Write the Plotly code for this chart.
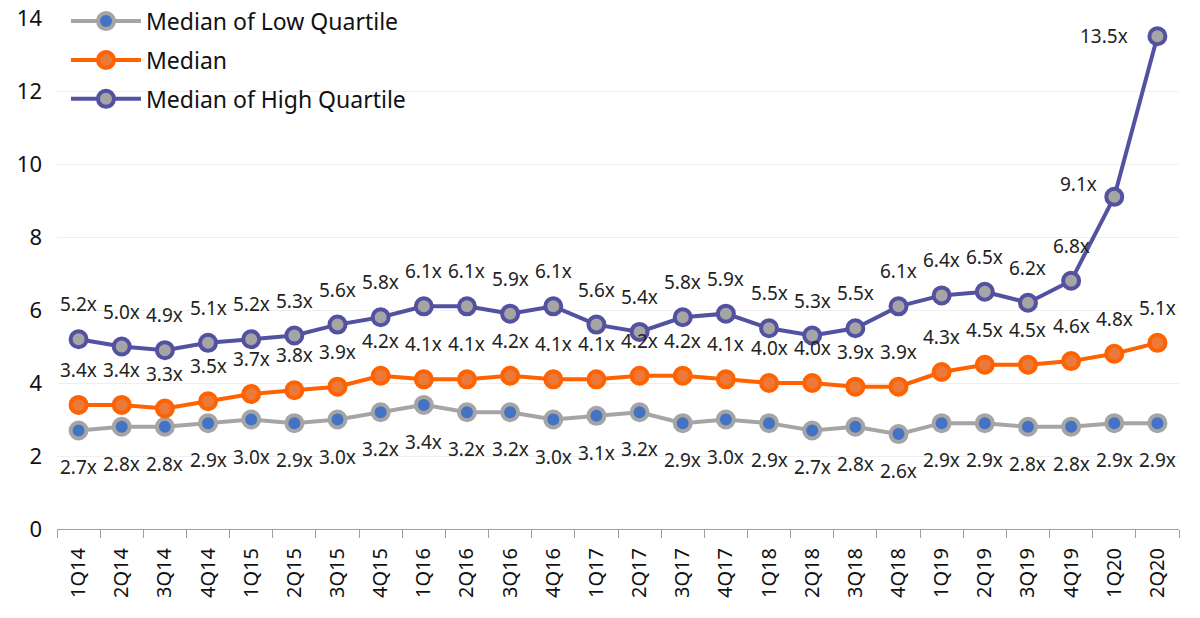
import plotly.graph_objects as go

quarters = [
    "1Q14", "2Q14", "3Q14", "4Q14", "1Q15", "2Q15", "3Q15", "4Q15",
    "1Q16", "2Q16", "3Q16", "4Q16", "1Q17", "2Q17", "3Q17", "4Q17",
    "1Q18", "2Q18", "3Q18", "4Q18", "1Q19", "2Q19", "3Q19", "4Q19",
    "1Q20", "2Q20",
]
low_quartile = [2.7, 2.8, 2.8, 2.9, 3.0, 2.9, 3.0, 3.2, 3.4, 3.2, 3.2, 3.0, 3.1,
                3.2, 2.9, 3.0, 2.9, 2.7, 2.8, 2.6, 2.9, 2.9, 2.8, 2.8, 2.9, 2.9]
median = [3.4, 3.4, 3.3, 3.5, 3.7, 3.8, 3.9, 4.2, 4.1, 4.1, 4.2, 4.1, 4.1,
          4.2, 4.2, 4.1, 4.0, 4.0, 3.9, 3.9, 4.3, 4.5, 4.5, 4.6, 4.8, 5.1]
high_quartile = [5.2, 5.0, 4.9, 5.1, 5.2, 5.3, 5.6, 5.8, 6.1, 6.1, 5.9, 6.1, 5.6,
                 5.4, 5.8, 5.9, 5.5, 5.3, 5.5, 6.1, 6.4, 6.5, 6.2, 6.8, 9.1, 13.5]

FONT = "Noto Sans"
LABEL_FONT = dict(family=FONT, size=19, color="#222222")

series = [
    # name, values, line colour, marker fill, label shift
    ("Median of Low Quartile", low_quartile, "#A5A5A5", "#4472C4", -37),
    ("Median", median, "#FF6200", "#EB7A3A", 35),
    ("Median of High Quartile", high_quartile, "#5252A0", "#A5A5A5", 35),
]

fig = go.Figure()
for name, vals, line_col, fill_col, shift in series:
    fig.add_trace(go.Scatter(
        x=quarters, y=vals, name=name, legendgroup=name,
        mode="lines+markers",
        line=dict(color=line_col, width=4),
        marker=dict(size=16, color=fill_col, line=dict(color=line_col, width=4)),
    ))
    for i, (q, v) in enumerate(zip(quarters, vals)):
        xshift, yshift, xanchor = 0, shift, "center"
        # the last two high-quartile labels sit left of the steep line
        if name == "Median of High Quartile" and i == len(vals) - 1:
            xshift, yshift, xanchor = -27, 0, "right"
        elif name == "Median of High Quartile" and i == len(vals) - 2:
            xshift, yshift = -36, 13
        fig.add_annotation(
            x=q, y=v, text=f"{v:.1f}x", showarrow=False,
            xshift=xshift, yshift=yshift, xanchor=xanchor, yanchor="middle",
            font=LABEL_FONT,
        )

# page body adds an 8px margin, so the figure is 8px smaller on each side
fig.update_layout(
    width=1192, height=610,
    margin=dict(l=49, r=21, t=10, b=89, autoexpand=False),
    paper_bgcolor="white", plot_bgcolor="white",
    font=dict(family=FONT, color="#111111"),
    showlegend=True,
    legend=dict(
        x=0.008, y=1.036, xanchor="left", yanchor="top",
        font=dict(family=FONT, size=23, color="#111111"),
        bgcolor="rgba(0,0,0,0)", traceorder="grouped", tracegroupgap=6,
        itemwidth=70,
    ),
)
fig.update_xaxes(
    type="category", tickangle=-90, automargin=False,
    tickfont=dict(family=FONT, size=20, color="#111111"),
    showline=True, linecolor="#A0A0A0", linewidth=1,
    ticks="outside", tickson="boundaries", tickcolor="#A0A0A0", ticklen=8,
    ticklabelstandoff=10,
    showgrid=False, range=[-0.5, len(quarters) - 0.5],
)
fig.update_yaxes(
    range=[0, 14], dtick=2, automargin=False, ticklabeloverflow="allow",
    tickfont=dict(family=FONT, size=22, color="#111111"),
    showgrid=True, gridcolor="#EFEFEF", gridwidth=1, zeroline=False,
    ticklabelstandoff=14,
)

fig.write_html("out.html")
